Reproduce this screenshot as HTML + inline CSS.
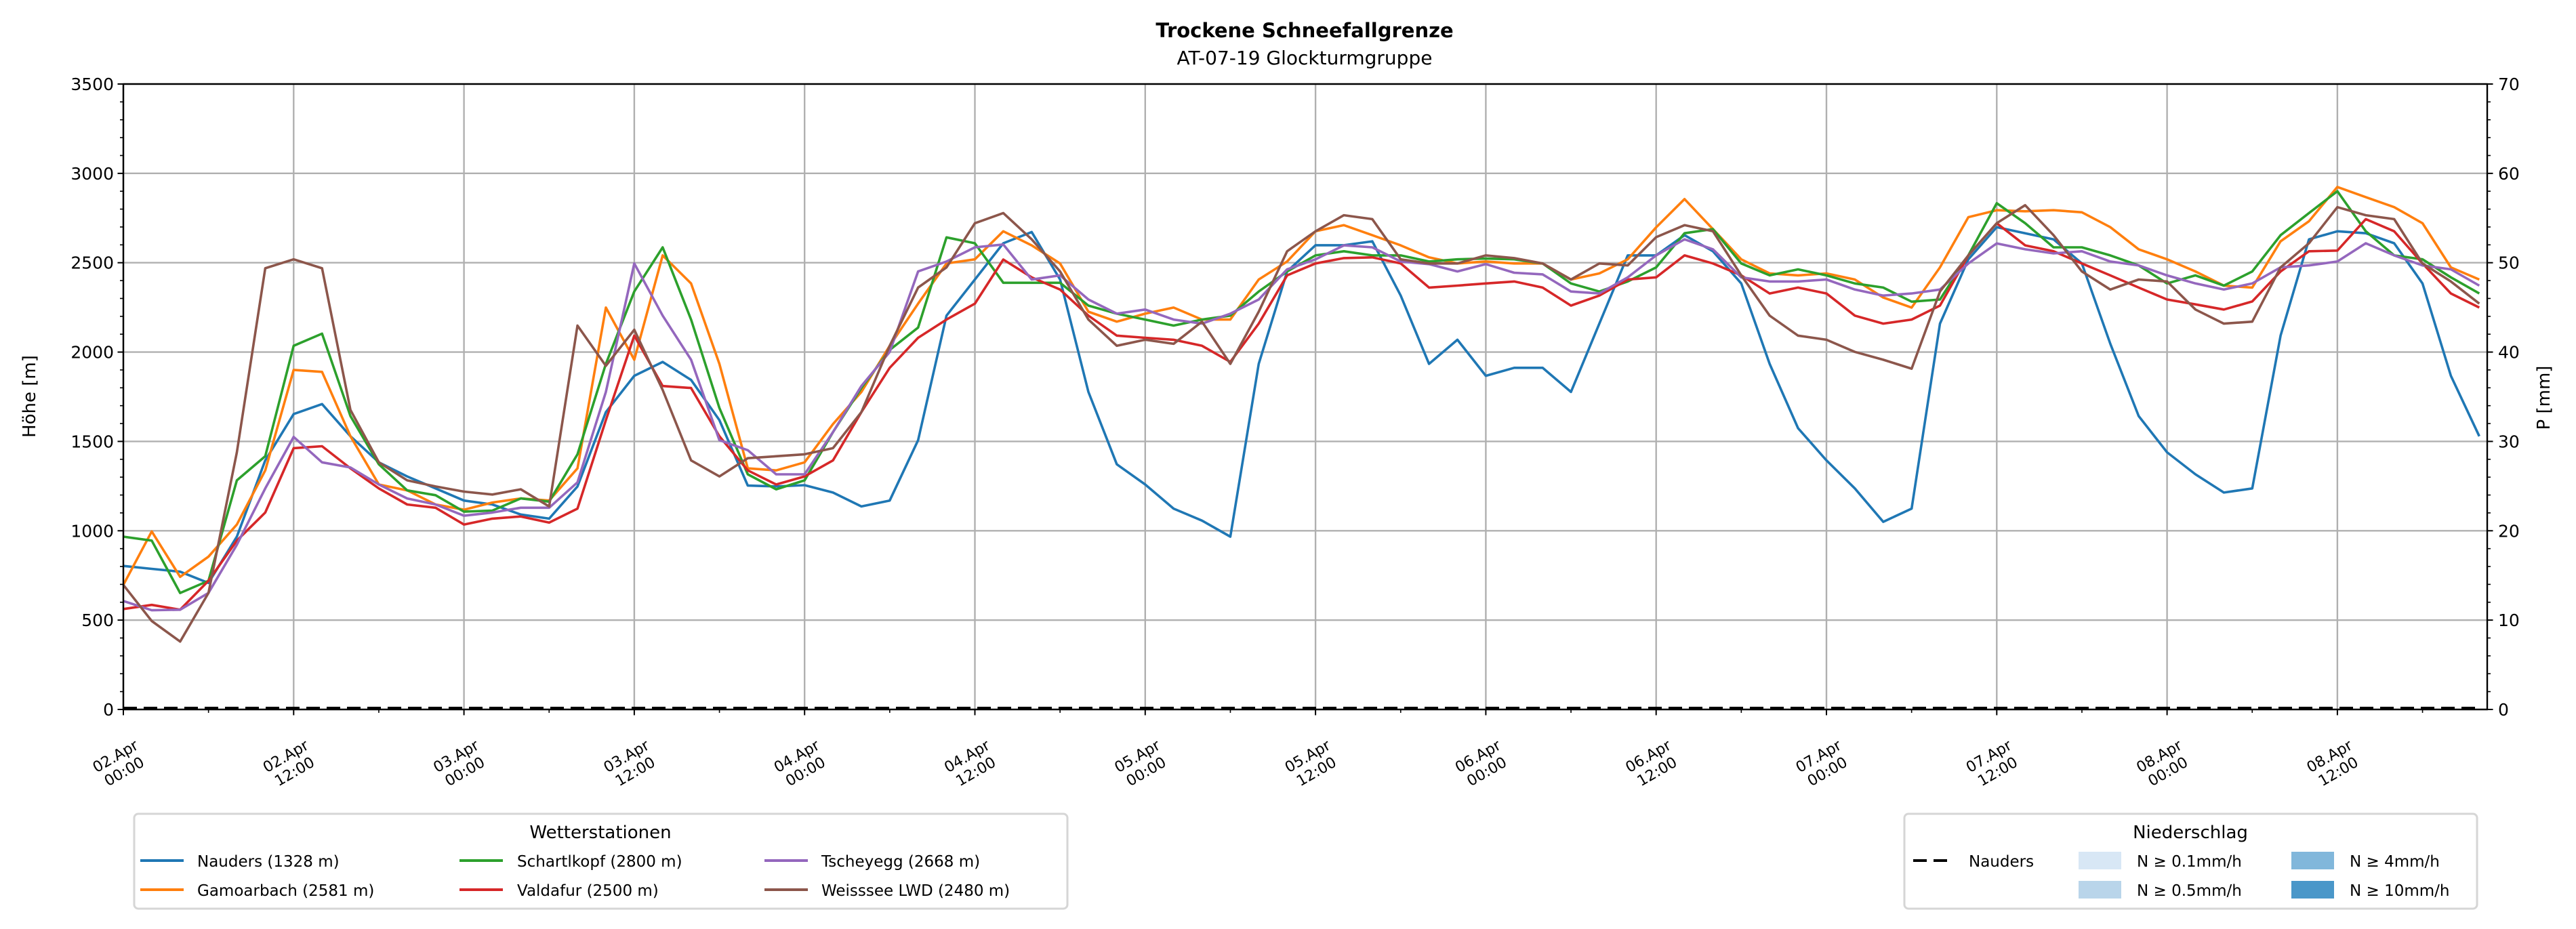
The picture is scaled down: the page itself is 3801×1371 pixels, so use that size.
<!DOCTYPE html>
<html><head><meta charset="utf-8"><style>
html,body{margin:0;padding:0;background:#fff;}
svg{display:block;font-family:"DejaVu Sans","Liberation Sans",sans-serif;}
</style></head><body>
<svg id="chart" width="3801" height="1371" viewBox="0 0 3801 1371" xmlns="http://www.w3.org/2000/svg">
<rect width="3801" height="1371" fill="#fff"/>
<text x="1925" y="55" font-size="29" font-weight="bold" text-anchor="middle">Trockene Schneefallgrenze</text>
<text x="1925" y="95" font-size="28" text-anchor="middle">AT-07-19 Glockturmgruppe</text>
<g id="grid"></g>
<g id="series"></g>
<g id="axes"></g>
<text transform="translate(52,585) rotate(-90)" font-size="26" text-anchor="middle">Höhe [m]</text>
<text transform="translate(3762,587) rotate(-90)" font-size="26" text-anchor="middle">P [mm]</text>

<g>
<rect x="198" y="1201" width="1377" height="140" rx="6" fill="#fff" stroke="#d6d6d6" stroke-width="3"/>
<text x="886" y="1237" font-size="26" text-anchor="middle">Wetterstationen</text>
<g><line x1="207" x2="271" y1="1270" y2="1270" stroke="#1f77b4" stroke-width="4"/><text x="291" y="1279" font-size="23">Nauders (1328 m)</text></g>
<g><line x1="207" x2="271" y1="1313" y2="1313" stroke="#ff7f0e" stroke-width="4"/><text x="291" y="1322" font-size="23">Gamoarbach (2581 m)</text></g>
<g><line x1="678" x2="742" y1="1270" y2="1270" stroke="#2ca02c" stroke-width="4"/><text x="763" y="1279" font-size="23">Schartlkopf (2800 m)</text></g>
<g><line x1="678" x2="742" y1="1313" y2="1313" stroke="#d62728" stroke-width="4"/><text x="763" y="1322" font-size="23">Valdafur (2500 m)</text></g>
<g><line x1="1128" x2="1192" y1="1270" y2="1270" stroke="#9467bd" stroke-width="4"/><text x="1212" y="1279" font-size="23">Tscheyegg (2668 m)</text></g>
<g><line x1="1128" x2="1192" y1="1313" y2="1313" stroke="#8c564b" stroke-width="4"/><text x="1212" y="1322" font-size="23">Weisssee LWD (2480 m)</text></g>
</g>

<g>
<rect x="2810" y="1201" width="845" height="140" rx="6" fill="#fff" stroke="#d6d6d6" stroke-width="3"/>
<text x="3232" y="1237" font-size="26" text-anchor="middle">Niederschlag</text>
<g><line x1="2823" x2="2879" y1="1270" y2="1270" stroke="#000" stroke-width="4" stroke-dasharray="20,10"/><text x="2905" y="1279" font-size="23">Nauders</text></g>
<g><rect x="3067" y="1257" width="63" height="26" fill="#d8e7f5"/><text x="3153" y="1279" font-size="23">N ≥ 0.1mm/h</text></g>
<g><rect x="3067" y="1300" width="63" height="26" fill="#b9d5ea"/><text x="3153" y="1322" font-size="23">N ≥ 0.5mm/h</text></g>
<g><rect x="3381" y="1257" width="63" height="26" fill="#81b7db"/><text x="3467" y="1279" font-size="23">N ≥ 4mm/h</text></g>
<g><rect x="3381" y="1300" width="63" height="26" fill="#4a97c9"/><text x="3467" y="1322" font-size="23">N ≥ 10mm/h</text></g>
</g>
</svg>
<script>
const hours = [];
for (let h = 0; h <= 166; h += 2) hours.push(h);
const nauders = [803,787,771,708,967,1394,1653,1709,1529,1383,1304,1237,1169,1147,1091,1068,1248,1664,1867,1945,1844,1619,
1253,1248,1255,1214,1136,1169,1507,2204,2406,2609,2672,2406,1777,1372,1259,1124,1057,967,1934,2451,2598,
2598,2620,2316,1934,2069,1867,1912,1912,1777,2159,2541,2541,2654,2564,2384,1934,1574,1394,1237,1050,1124,
2159,2519,2699,2665,2631,2496,2047,1642,1439,1316,1214,1237,2092,2631,2676,2665,2609,2384,1867,1529];
const gamoarbach = [697,996,742,855,1035,1338,1900,1889,1529,1259,1226,1147,1118,1158,1181,1169,1349,2249,1957,2541,2384,1934,
1349,1338,1383,1597,1777,2035,2271,2496,2519,2676,2597,2496,2226,2170,2215,2249,2182,2182,2406,2507,2676,
2710,2654,2597,2530,2496,2507,2496,2496,2406,2440,2519,2698,2856,2688,2519,2440,2429,2440,2406,2305,2249,
2474,2755,2794,2788,2794,2782,2699,2575,2519,2451,2372,2361,2620,2732,2924,2867,2811,2721,2474,2406];
const schartlkopf = [967,945,652,720,1282,1417,2035,2103,1642,1372,1226,1199,1107,1113,1181,1163,1428,1934,2339,2586,2182,1687,
1316,1232,1282,1552,1799,2012,2137,2642,2609,2388,2388,2388,2260,2215,2182,2148,2182,2204,2339,2451,2541,
2564,2541,2541,2507,2519,2523,2519,2496,2384,2339,2395,2474,2665,2688,2496,2429,2463,2429,2384,2361,2282,
2294,2541,2833,2721,2586,2586,2541,2485,2384,2429,2372,2451,2654,2778,2900,2676,2541,2519,2418,2328];
const valdafur = [562,585,558,720,945,1102,1462,1473,1349,1237,1147,1129,1035,1068,1080,1046,1124,1619,2092,1810,1799,1529,
1338,1259,1304,1394,1664,1912,2080,2182,2271,2518,2418,2350,2204,2092,2080,2069,2035,1945,2159,2429,2496,
2526,2530,2496,2361,2372,2384,2395,2361,2260,2316,2406,2418,2541,2496,2429,2328,2361,2328,2204,2159,2182,
2260,2541,2721,2597,2564,2496,2429,2361,2294,2267,2238,2283,2451,2564,2568,2744,2676,2496,2328,2249];
const tscheyegg = [607,555,558,652,922,1237,1525,1383,1354,1259,1181,1147,1084,1102,1129,1129,1271,1777,2496,2204,1957,1507,
1451,1316,1316,1552,1810,2001,2451,2507,2586,2602,2406,2429,2294,2215,2238,2182,2159,2215,2294,2463,2519,
2597,2586,2507,2492,2451,2492,2444,2435,2339,2328,2418,2541,2631,2575,2418,2395,2395,2406,2350,2316,2328,
2350,2496,2608,2575,2552,2564,2507,2485,2429,2384,2350,2384,2474,2485,2507,2609,2541,2485,2463,2372];
const weisssee = [697,495,380,652,1439,2469,2519,2469,1676,1383,1282,1248,1219,1203,1232,1136,2148,1923,2125,1788,1394,1304,
1406,1417,1428,1462,1664,2035,2361,2474,2721,2778,2631,2451,2182,2035,2069,2046,2170,1934,2226,2564,2676,
2766,2744,2519,2496,2496,2541,2526,2496,2406,2496,2485,2643,2710,2676,2429,2204,2092,2069,2001,1957,1907,
2339,2541,2721,2822,2654,2451,2350,2406,2395,2238,2159,2170,2474,2609,2811,2766,2744,2496,2395,2271];
const precipNauders = hours.map(() => 0);
const xTickLabels = ["02.Apr|00:00","02.Apr|12:00","03.Apr|00:00","03.Apr|12:00","04.Apr|00:00","04.Apr|12:00","05.Apr|00:00","05.Apr|12:00","06.Apr|00:00","06.Apr|12:00","07.Apr|00:00","07.Apr|12:00","08.Apr|00:00","08.Apr|12:00"];
const yTicks = [0,500,1000,1500,2000,2500,3000,3500];
const y2Ticks = [0,10,20,30,40,50,60,70];

const NS = "http://www.w3.org/2000/svg";
const L = 182, R = 3670, T = 124, B = 1047;
const HMAX = (R - L) / (251.3 / 12);
const xs = h => L + h / HMAX * (R - L);
const ys = v => B - v / 3500 * (B - T);
const y2s = v => B - v / 70 * (B - T);
function mk(tag, attrs, parent) {
  const e = document.createElementNS(NS, tag);
  for (const k in attrs) e.setAttribute(k, attrs[k]);
  parent.appendChild(e);
  return e;
}
const grid = document.getElementById('grid');
const axes = document.getElementById('axes');
const series = document.getElementById('series');

yTicks.forEach(v => {
  const g = mk('line', {x1: L, x2: R, y1: ys(v), y2: ys(v), stroke: '#b0b0b0', 'stroke-width': 2.4}, grid);
  
  
  const t = mk('line', {x1: L - 8.5, x2: L, y1: ys(v), y2: ys(v), stroke: '#000', 'stroke-width': 2}, axes);
  
  
  const lb = mk('text', {x: L - 14, y: ys(v) + 9, 'font-size': 25, 'text-anchor': 'end'}, axes);
  lb.textContent = v;
  
  
});
for (let v = 0; v <= 3500; v += 100) {
  if (v % 500 === 0) continue;
  const t = mk('line', {x1: L - 5, x2: L, y1: ys(v), y2: ys(v), stroke: '#000', 'stroke-width': 1.6}, axes);
  
  
}
y2Ticks.forEach(v => {
  const t = mk('line', {x1: R, x2: R + 8.5, y1: y2s(v), y2: y2s(v), stroke: '#000', 'stroke-width': 2}, axes);
  
  
  const lb = mk('text', {x: R + 16, y: y2s(v) + 9, 'font-size': 25}, axes);
  lb.textContent = v;
  
  
});
for (let v = 0; v <= 70; v += 2) {
  if (v % 10 === 0) continue;
  const t = mk('line', {x1: R, x2: R + 5, y1: y2s(v), y2: y2s(v), stroke: '#000', 'stroke-width': 1.6}, axes);
  
  
}
xTickLabels.forEach((lab, i) => {
  const x = xs(i * 12);
  const g = mk('line', {x1: x, x2: x, y1: T, y2: B, stroke: '#b0b0b0', 'stroke-width': 2.4}, grid);
  
  
  const t = mk('line', {x1: x, x2: x, y1: B, y2: B + 8.5, stroke: '#000', 'stroke-width': 2}, axes);
  
  
  const parts = lab.split('|');
  const tx = mk('text', {'font-size': 22, 'text-anchor': 'middle', transform: `translate(${x - 6},${1126}) rotate(-30)`}, axes);
  
  
  const s1 = mk('tspan', {x: 0, y: -4}, tx); s1.textContent = parts[0];
  const s2 = mk('tspan', {x: 0, y: 22}, tx); s2.textContent = parts[1];
});
for (let h = 6; h < HMAX; h += 12) {
  const t = mk('line', {x1: xs(h), x2: xs(h), y1: B, y2: B + 5, stroke: '#000', 'stroke-width': 1.6}, axes);
  
  
}

const seriesList = [
  ['line-nauders', nauders, '#1f77b4'],
  ['line-gamoarbach', gamoarbach, '#ff7f0e'],
  ['line-schartlkopf', schartlkopf, '#2ca02c'],
  ['line-valdafur', valdafur, '#d62728'],
  ['line-tscheyegg', tscheyegg, '#9467bd'],
  ['line-weisssee', weisssee, '#8c564b']
];
seriesList.forEach(([name, vals, col]) => {
  const d = vals.map((v, i) => (i ? 'L' : 'M') + xs(hours[i]).toFixed(1) + ',' + ys(v).toFixed(1)).join(' ');
  const p = mk('path', {d: d, fill: 'none', stroke: col, 'stroke-width': 3.6, 'stroke-linejoin': 'round'}, series);
  
  
});
const pd = precipNauders.map((v, i) => (i ? 'L' : 'M') + xs(hours[i]).toFixed(1) + ',' + (y2s(v) - 2).toFixed(1)).join(' ');
const pp = mk('path', {d: pd, fill: 'none', stroke: '#000', 'stroke-width': 4, 'stroke-dasharray': '20,10'}, series);



const frame = mk('rect', {x: L, y: T, width: R - L, height: B - T, fill: 'none', stroke: '#000', 'stroke-width': 2.4}, axes);


</script>
</body></html>
